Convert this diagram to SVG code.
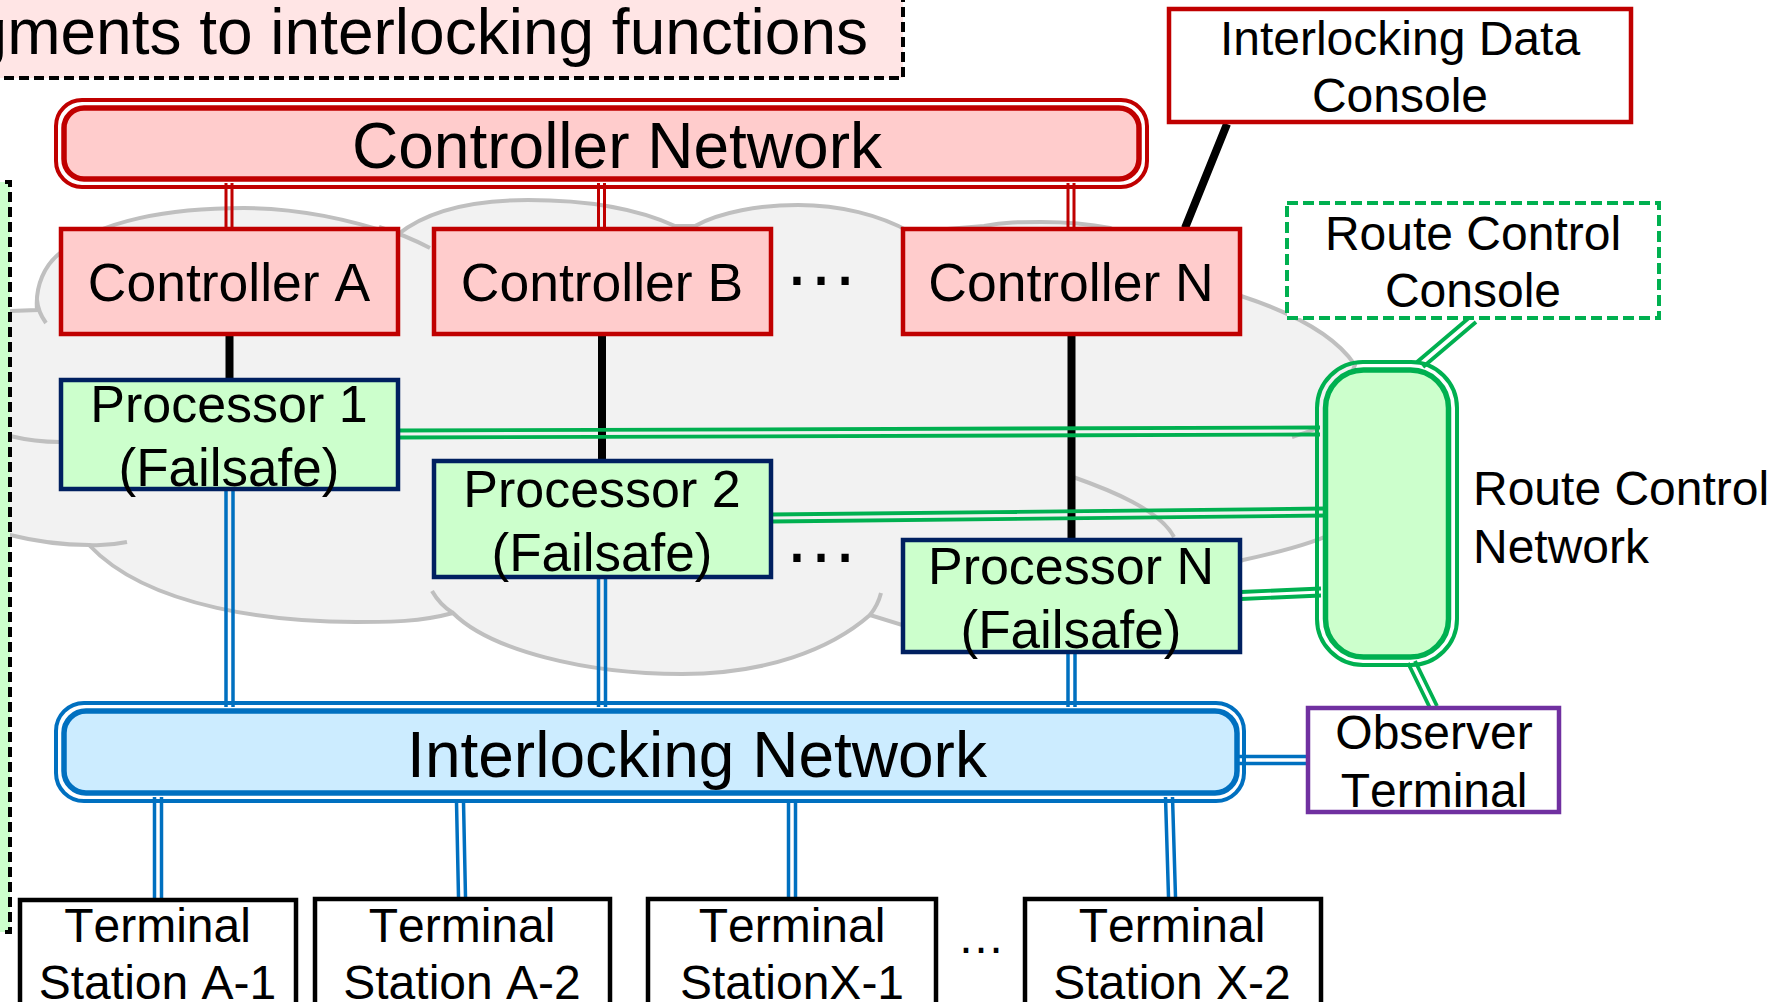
<svg xmlns="http://www.w3.org/2000/svg" width="1783" height="1002" viewBox="0 0 1783 1002">
<style>
text{font-family:"Liberation Sans",Arial,sans-serif;fill:#000;text-anchor:middle;font-kerning:none}
.t64{font-size:64px}.t53{font-size:53.500px}.t52{font-size:52px}.t47{font-size:48px}
.box{stroke-width:4.5}
.red{stroke:#C00000;fill:#FFCCCC}
.navy{stroke:#002060;fill:#CCFFCC}
.out{fill:none;stroke-width:4}
.in{stroke-width:5.500}
.dr{fill:none;stroke:#C00000;stroke-width:3}
.db{fill:none;stroke:#0070C0;stroke-width:3.500}
.dg{fill:none;stroke:#00B050;stroke-width:3.800}
.k{fill:none;stroke:#000;stroke-width:8}
.c{fill:none;stroke:#BFBFBF;stroke-width:4}
</style>
<rect width="1783" height="1002" fill="#fff"/>
<g id="cloud">
<path d="M37 310C35 285 45 265 60 253C100 220 170 208 244 208C300 208 350 220 397 235C430 208 480 200 528 200C590 200 640 210 675 226L695 226C720 212 760 205 798 205C840 205 880 215 910 232L984 226C1005 222 1020 222 1041 222C1065 222 1090 224 1110 228L1241 296C1290 312 1335 335 1355 365L1340 400L1340 530C1318 542 1280 552 1243 560L1200 575L902 625L870 615C830 650 765 674 682 674C585 674 490 650 453 613C420 622 390 622 356 622C280 622 150 610 89 545C60 545 30 540 10 535L-10 535L-10 312L10 311Z" fill="#F2F2F2" stroke="#BFBFBF" stroke-width="4"/>
<path class="c" d="M37 300Q38 312 46 323M379 227Q405 235 430 248M10 436Q35 442 60 442M89 545Q108 546 127 542M432 591Q440 605 453 613M881 593Q878 605 870 615M1318 428Q1305 433 1292 437M1073 477C1110 490 1160 510 1174 537"/>
</g>
<g id="title-box">
<rect x="-10" y="-10" width="913" height="88" fill="#FFE5E5" stroke="#000" stroke-width="4" stroke-dasharray="10 5"/>
<text class="t64" x="868" y="54" style="text-anchor:end">gments to interlocking functions</text>
</g>
<g id="left-box"><rect x="-10" y="182" width="20" height="750" fill="#CCFFCC" stroke="#000" stroke-width="4" stroke-dasharray="10 5"/></g>
<g id="connectors">
<path class="dr" d="M226 183V228M232 183V228M598.500 183V228M604.500 183V228M1068 183V228M1074 183V228"/>
<path class="k" d="M229.500 334V380M602 334V461M1071.500 334V540M1227 124L1185 228"/>
<path class="dg" d="M398 430.500L1320 427.500M398 437.500L1320 434.500M771 514.500L1326 508.500M771 521.500L1326 515.500M1241 592L1321 588.500M1241 599L1321 595.500M1470 317L1417 362M1476 322L1423 367M1408 663L1430 708M1415 661L1437 706"/>
<path class="db" d="M226 489V707M233 489V707M598.500 578V707M605.500 578V707M1068 653V707M1075 653V707M154.500 797V899M161.500 797V899M456.500 802L458.500 897M463.500 802L465.500 897M788.500 802V897M795.500 802V897M1165.500 797L1168.500 897M1172.500 797L1175.500 897M1238 756.500H1307M1238 763.500H1307"/>
</g>
<g id="controller-network">
<rect class="out" x="56" y="100" width="1091" height="87" rx="26" stroke="#C00000"/>
<rect class="in red" x="64" y="108" width="1075" height="71" rx="20"/>
<text class="t64" x="617" y="168">Controller Network</text>
</g>
<g id="controller-a"><rect class="box red" x="61" y="229" width="337" height="105"/><text class="t53" x="229" y="301">Controller A</text></g>
<g id="controller-b"><rect class="box red" x="434" y="229" width="337" height="105"/><text class="t53" x="602" y="301">Controller B</text></g>
<g id="controller-n"><rect class="box red" x="903" y="229" width="337" height="105"/><text class="t53" x="1071" y="301">Controller N</text></g>
<g id="interlocking-data-console"><rect class="box" x="1169" y="9" width="462" height="113" fill="#fff" stroke="#C00000"/><text class="t47" x="1400" y="55">Interlocking Data</text><text class="t47" x="1400" y="112">Console</text></g>
<g id="route-control-console"><rect x="1287" y="203" width="372" height="115" fill="#fff" stroke="#00B050" stroke-width="4" stroke-dasharray="11 5"/><text class="t47" x="1473" y="250">Route Control</text><text class="t47" x="1473" y="307">Console</text></g>
<g id="processor-1"><rect class="box navy" x="61" y="380" width="337" height="109"/><text class="t52" x="229" y="422">Processor 1</text><text class="t53" x="229" y="486" style="font-size:53px">(Failsafe)</text></g>
<g id="processor-2"><rect class="box navy" x="434" y="461" width="337" height="116"/><text class="t52" x="602" y="507">Processor 2</text><text class="t53" x="602" y="571" style="font-size:53px">(Failsafe)</text></g>
<g id="processor-n"><rect class="box navy" x="903" y="540" width="337" height="112"/><text class="t52" x="1071" y="584">Processor N</text><text class="t53" x="1071" y="648" style="font-size:53px">(Failsafe)</text></g>
<g id="route-control-network">
<rect class="out" x="1317" y="362" width="140" height="303" rx="46" stroke="#00B050"/>
<rect class="in" x="1325.500" y="370" width="123" height="287" rx="38" fill="#CCFFCC" stroke="#00B050"/>
<text class="t47" x="1473" y="505" style="text-anchor:start">Route Control</text><text class="t47" x="1473" y="563" style="text-anchor:start">Network</text>
</g>
<g id="interlocking-network">
<rect class="out" x="56" y="703" width="1188" height="98" rx="28" stroke="#0070C0"/>
<rect class="in" x="64" y="711" width="1173" height="82" rx="22" fill="#CCECFF" stroke="#0070C0"/>
<text class="t64" x="697" y="777">Interlocking Network</text>
</g>
<g id="observer-terminal"><rect class="box" x="1308" y="708" width="251" height="104" fill="#fff" stroke="#7030A0"/><text class="t47" x="1434" y="749">Observer</text><text class="t47" x="1434" y="807">Terminal</text></g>
<g id="terminal-a1"><rect class="box" x="20" y="900" width="276" height="120" fill="#fff" stroke="#000"/><text class="t47" x="157.500" y="942">Terminal</text><text class="t47" x="157.500" y="999">Station A-1</text></g>
<g id="terminal-a2"><rect class="box" x="315" y="899" width="295" height="120" fill="#fff" stroke="#000"/><text class="t47" x="462" y="942">Terminal</text><text class="t47" x="462" y="999">Station A-2</text></g>
<g id="terminal-x1"><rect class="box" x="648" y="899" width="288" height="120" fill="#fff" stroke="#000"/><text class="t47" x="792" y="942">Terminal</text><text class="t47" x="792" y="999">StationX-1</text></g>
<g id="terminal-x2"><rect class="box" x="1025" y="899" width="296" height="120" fill="#fff" stroke="#000"/><text class="t47" x="1172" y="942">Terminal</text><text class="t47" x="1172" y="999">Station X-2</text></g>
<g id="ellipses">
<text x="821" y="285" style="font-size:76px">…</text>
<text x="821" y="562" style="font-size:76px">…</text>
<text x="981" y="953" style="font-size:47.500px">…</text>
</g>
</svg>
